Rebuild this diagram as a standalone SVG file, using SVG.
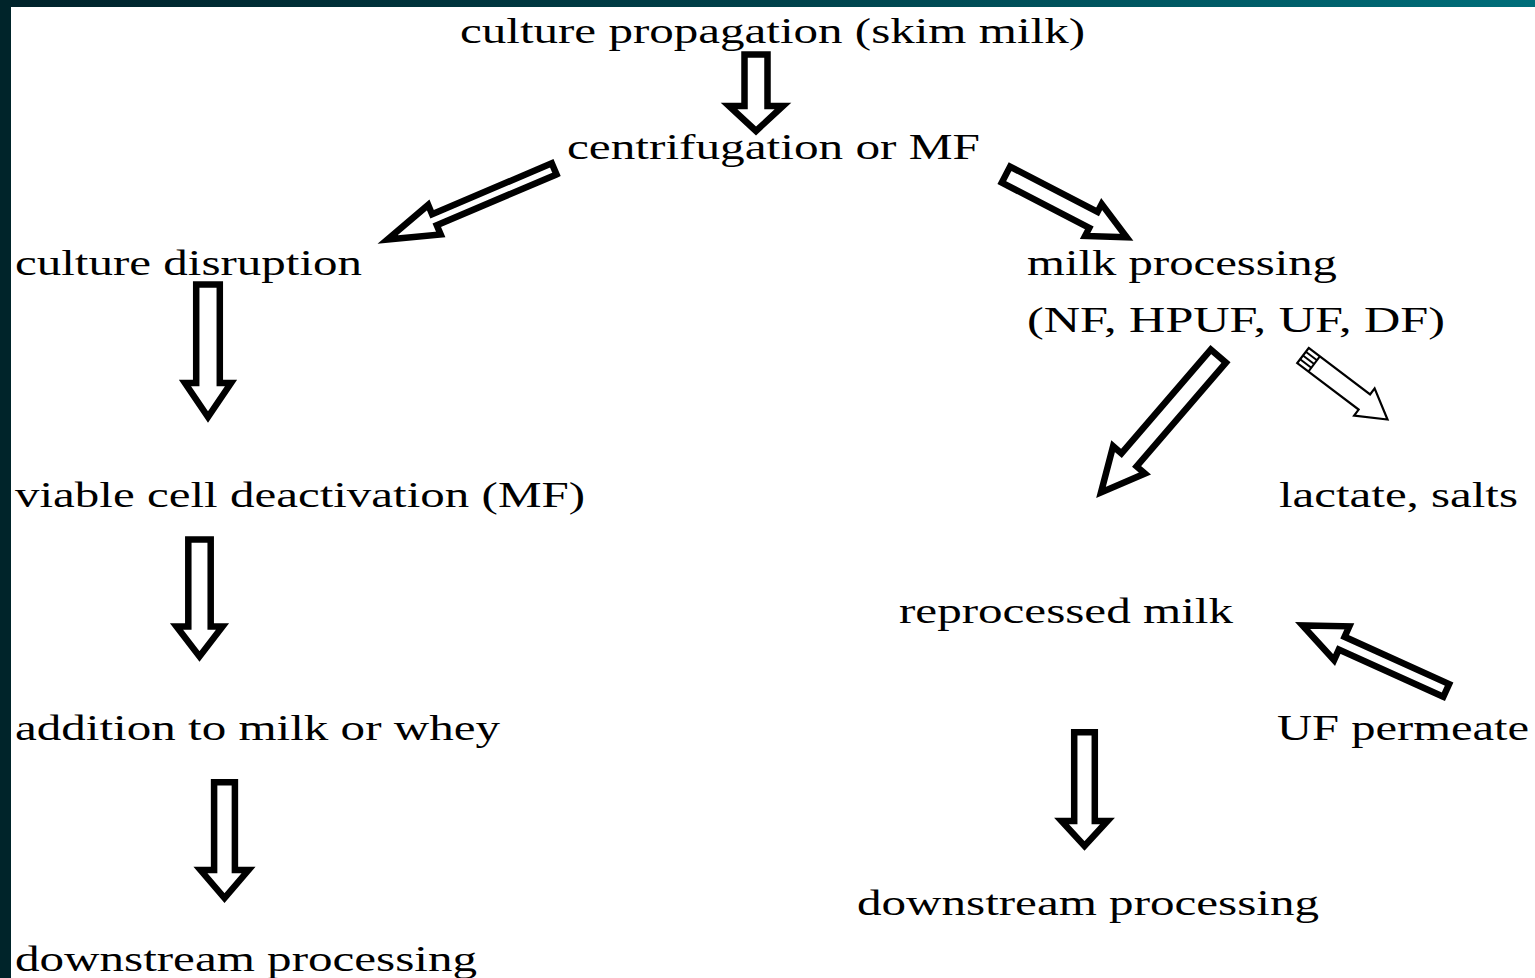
<svg xmlns="http://www.w3.org/2000/svg" width="1535" height="978" viewBox="0 0 1535 978">
<defs>
<linearGradient id="topbar" x1="0" y1="0" x2="1" y2="0">
<stop offset="0" stop-color="#00222a"/>
<stop offset="0.5" stop-color="#00414a"/>
<stop offset="1" stop-color="#006e7a"/>
</linearGradient>
</defs>
<style>
text{font-family:"Liberation Serif","Times New Roman",serif;font-size:35px;fill:#000}
.arr{fill:#fff;stroke:#000;stroke-width:6.5;stroke-linejoin:miter;stroke-miterlimit:10}
.thin{fill:#fff;stroke:#000;stroke-width:2.2;stroke-linejoin:miter;stroke-miterlimit:10}
.hatch{fill:none;stroke:#000;stroke-width:2}
</style>
<rect x="0" y="0" width="1535" height="978" fill="#fff"/>
<rect x="0" y="0" width="1535" height="7" fill="url(#topbar)"/>
<rect x="0" y="0" width="11" height="978" fill="#00242a"/>

<g id="n-culture-propagation"><text x="460" y="43" textLength="625" lengthAdjust="spacingAndGlyphs">culture propagation (skim milk)</text></g>
<g id="n-centrifugation"><text x="567" y="159" textLength="413" lengthAdjust="spacingAndGlyphs">centrifugation or MF</text></g>
<g id="n-culture-disruption"><text x="15" y="275" textLength="347" lengthAdjust="spacingAndGlyphs">culture disruption</text></g>
<g id="n-milk-processing"><text x="1027" y="275" textLength="310" lengthAdjust="spacingAndGlyphs">milk processing</text><text x="1027" y="332" textLength="418" lengthAdjust="spacingAndGlyphs">(NF, HPUF, UF, DF)</text></g>
<g id="n-viable"><text x="15" y="507" textLength="570" lengthAdjust="spacingAndGlyphs">viable cell deactivation (MF)</text></g>
<g id="n-lactate"><text x="1279" y="507" textLength="239" lengthAdjust="spacingAndGlyphs">lactate, salts</text></g>
<g id="n-reprocessed"><text x="899" y="623" textLength="334" lengthAdjust="spacingAndGlyphs">reprocessed milk</text></g>
<g id="n-addition"><text x="15" y="740" textLength="485" lengthAdjust="spacingAndGlyphs">addition to milk or whey</text></g>
<g id="n-uf-permeate"><text x="1277" y="740" textLength="252" lengthAdjust="spacingAndGlyphs">UF permeate</text></g>
<g id="n-downstream-right"><text x="857" y="915" textLength="462" lengthAdjust="spacingAndGlyphs">downstream processing</text></g>
<g id="n-downstream-left"><text x="15" y="971" textLength="462" lengthAdjust="spacingAndGlyphs">downstream processing</text></g>

<g id="connectors">
<path class="arr" transform="translate(756,131) rotate(90)" d="M-76.5,-11.5 L-25,-11.5 L-25,-27 L0,0 L-25,27 L-25,11.5 L-76.5,11.5 Z"/>
<path class="arr" transform="translate(387.5,239.6) rotate(157)" d="M-181,-6 L-51,-6 L-51,-16 L0,0 L-51,16 L-51,6 L-181,6 Z"/>
<path class="arr" transform="translate(1126.7,237.2) rotate(27.4)" d="M-136,-9 L-37.5,-9 L-37.5,-18 L0,0 L-37.5,18 L-37.5,9 L-136,9 Z"/>
<path class="arr" transform="translate(208,417) rotate(90)" d="M-132.5,-11.8 L-34,-11.8 L-34,-23 L0,0 L-34,23 L-34,11.8 L-132.5,11.8 Z"/>
<path class="arr" transform="translate(199.5,656.5) rotate(90)" d="M-117,-11.2 L-30,-11.2 L-30,-23 L0,0 L-30,23 L-30,11.2 L-117,11.2 Z"/>
<path class="arr" transform="translate(224.5,898) rotate(90)" d="M-115.7,-10.4 L-28,-10.4 L-28,-24 L0,0 L-28,24 L-28,10.4 L-115.7,10.4 Z"/>
<path class="arr" transform="translate(1101,492.5) rotate(130.7)" d="M-180,-10 L-43,-10 L-43,-21 L0,0 L-43,21 L-43,10 L-180,10 Z"/>
<g transform="translate(1387.5,419.5) rotate(37.1)">
<path class="thin" d="M-106,-9.5 L-29,-9.5 L-29,-17 L0,0 L-29,17 L-29,9.5 L-106,9.5 Z"/>
<path class="hatch" d="M-106,-4.7 L-92,-4.7 M-106,0 L-92,0 M-106,4.7 L-92,4.7 M-92,-9.5 L-92,9.5"/>
</g>
<path class="arr" transform="translate(1302.5,625.5) rotate(204.3)" d="M-157.7,-7 L-43,-7 L-43,-18.5 L0,0 L-43,18.5 L-43,7 L-157.7,7 Z"/>
<path class="arr" transform="translate(1084.5,846) rotate(90)" d="M-113.7,-10.3 L-25,-10.3 L-25,-23 L0,0 L-25,23 L-25,10.3 L-113.7,10.3 Z"/>
</g>
</svg>
